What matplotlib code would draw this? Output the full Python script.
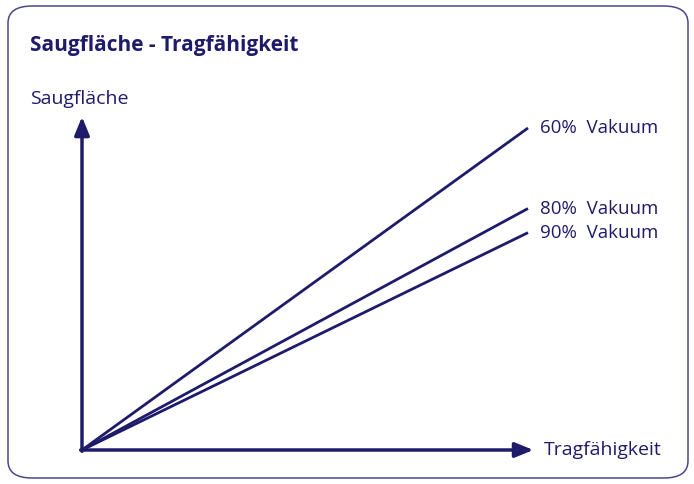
import matplotlib.pyplot as plt
from matplotlib.patches import FancyBboxPatch

# line data: end value of Saugflaeche at Tragfaehigkeit = 10
labels = ['60%  Vakuum', '80%  Vakuum', '90%  Vakuum']
x_end = [10, 10, 10]
y_end = [10, 7.5, 6.75]

navy = '#1f1b6b'
plt.rcParams['font.family'] = ['Open Sans', 'DejaVu Sans']

W, H = 694, 484
fig = plt.figure(figsize=(W / 100, H / 100), dpi=100)

# rounded frame
frame = FancyBboxPatch((8 / W, 6 / H), 680 / W, 472 / H,
                       boxstyle='round,pad=0,rounding_size=0.035',
                       transform=fig.transFigure, fill=False,
                       edgecolor='#4a4690', lw=1.1)
fig.patches.append(frame)

fig.text(30 / W, 1 - 45 / H, 'Saugfläche - Tragfähigkeit', color=navy,
         fontsize=15, fontweight='bold', va='center', ha='left')
fig.text(30 / W, 1 - 99 / H, 'Saugfläche', color=navy,
         fontsize=14, va='center', ha='left')

ax = fig.add_axes([82 / W, 34 / H, 446 / W, 322 / H])
ax.set_xlim(0, 10)
ax.set_ylim(0, 10)
ax.axis('off')

for lab, xe, ye in zip(labels, x_end, y_end):
    ax.plot([0, xe], [0, ye], color=navy, lw=2, solid_capstyle='butt', clip_on=False)
    ax.text(xe + 0.27, ye, lab, color=navy, fontsize=13.5, va='center', ha='left')

# axes arrows
ax.annotate('', xy=(10.12, 0), xytext=(-0.03, 0),
            arrowprops=dict(arrowstyle='-|>,head_length=1.1,head_width=0.45',
                            color=navy, lw=2.5, shrinkA=0, shrinkB=0),
            annotation_clip=False)
ax.annotate('', xy=(0, 10.35), xytext=(0, -0.04),
            arrowprops=dict(arrowstyle='-|>,head_length=1.1,head_width=0.45',
                            color=navy, lw=2.5, shrinkA=0, shrinkB=0),
            annotation_clip=False)
ax.text(10.35, 0, 'Tragfähigkeit', color=navy, fontsize=14, va='center', ha='left')

fig.savefig('out.png', dpi=100)
